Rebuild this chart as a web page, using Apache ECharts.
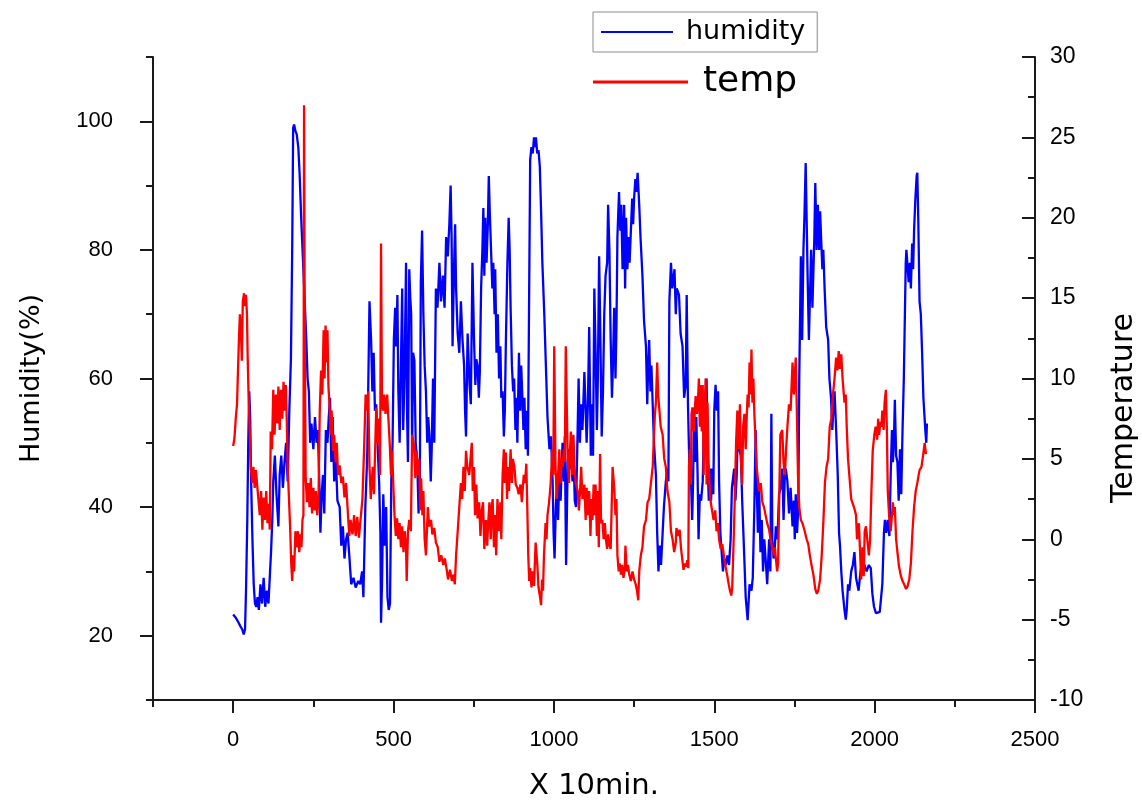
<!DOCTYPE html>
<html>
<head>
<meta charset="utf-8">
<script src="https://cdn.jsdelivr.net/npm/echarts@6/dist/echarts.min.js"></script>
<style>
html,body{margin:0;padding:0;background:#fff;}
#chart{width:1142px;height:806px;}
</style>
</head>
<body>
<div id="chart"></div>
<script>
// ---- data (x in units of 10 min) ----
const humidityX = [0,8,15,22,28,33,37,40,44,47,50,53,56,60,64,68,72,76,80,85,90,95,100,105,110,115,118,122,125,130,135,141,145,150,155,160,165,170,175,180,184,187,190,194,198,203,207,212,218,223,228,232,236,240,244,250,255,260,264,268,272,276,280,284,289,294,298,302,306,310,315,320,325,332,337,342,347,352,357,362,368,375,382,390,396,402,406,412,418,425,430,434,438,442,446,450,455,459,461,464,468,473,477,481,485,489,493,497,501,505,508,512,515,519,523,527,530,534,539,542,545,549,552,555,558,561,565,569,574,578,582,585,589,593,597,601,605,608,612,616,619,623,627,632,637,643,648,654,659,664,669,674,678,681,684,689,692,695,700,705,710,715,720,723,726,731,737,741,746,751,755,758,762,766,769,773,777,780,783,786,790,794,797,800,804,808,811,815,817,821,825,829,833,836,840,844,847,850,855,859,862,865,869,873,876,880,883,886,891,895,898,901,905,908,912,916,919,922,926,930,934,938,941,944,948,952,956,960,964,970,975,980,986,991,996,999,1002,1006,1010,1013,1017,1021,1024,1027,1031,1034,1038,1043,1047,1050,1054,1058,1061,1065,1069,1074,1077,1081,1085,1089,1095,1099,1102,1106,1110,1115,1119,1122,1126,1130,1134,1137,1141,1145,1149,1153,1157,1161,1166,1169,1173,1177,1181,1184,1188,1192,1195,1198,1203,1207,1210,1214,1219,1222,1225,1229,1233,1236,1240,1244,1247,1250,1254,1257,1261,1266,1270,1276,1281,1287,1291,1294,1297,1301,1304,1308,1312,1318,1322,1326,1330,1334,1339,1343,1349,1354,1357,1360,1365,1369,1376,1380,1383,1390,1395,1401,1406,1411,1414,1418,1422,1427,1431,1434,1437,1441,1444,1448,1451,1455,1459,1464,1469,1473,1476,1479,1483,1487,1490,1494,1497,1500,1504,1508,1512,1515,1519,1523,1527,1531,1536,1541,1546,1551,1555,1562,1566,1570,1574,1578,1583,1587,1593,1598,1604,1610,1616,1620,1625,1629,1632,1636,1640,1644,1648,1652,1656,1660,1665,1671,1675,1678,1681,1685,1689,1692,1697,1702,1707,1712,1716,1720,1723,1728,1733,1738,1744,1748,1751,1754,1758,1762,1765,1770,1774,1778,1781,1785,1791,1795,1798,1802,1806,1812,1815,1819,1823,1827,1830,1833,1837,1840,1844,1849,1855,1859,1864,1868,1871,1875,1880,1885,1889,1892,1896,1900,1906,1910,1913,1917,1921,1927,1932,1937,1942,1945,1950,1956,1961,1968,1975,1982,1988,1993,1998,2004,2010,2016,2020,2024,2029,2032,2036,2041,2046,2050,2054,2057,2060,2063,2067,2071,2075,2079,2083,2087,2091,2097,2099,2102,2106,2110,2113,2117,2120,2123,2127,2131,2133,2136,2140,2144,2148,2152,2155,2158,2161,2163];
const humidityVals = [23.3,22.8,22.2,21.5,21,20.2,21,27,38,50,58,54,44,35,28,25,24.5,26,24,28,25,29,24.5,27,25,30,33,38,44,48,42,37,45,48,43,47,50,44,55,63,80,99,99.5,98.5,98,96,92,85,78,72,66,60,58,50,53,49,54,50,52,45,36,42,45,39,52,50,54,57,47,54,44,48,41,40,34,37,32,35,36,32.5,28,29,27.5,28.5,28,30,26,40,48,72,66,58,64,55,56,50,44,36,22,28,42,34,40,26,24,25,44,50,66,71,65,73,58,50,62,74,52,60,78,55,47,77,72.7,70,49,64,62.8,50,47,39,44,75,83,70,62,58,50,54,51,44,49,60,50,74,71,78,72,76,71,82,79,84,90,82,65,78,84,74,67,64,72,66,62,55,51,67,59,56,78,66,59,63,62,57,61,74,80,86.5,76,85,78,84,91.5,86,80,74,78,70,77,64,70,60,65,57,58,51,55,65,78,85,80,71,62,58,60,52,57,50,64,55,62,58,52,57,49,55,48,68,94,96,95,97.5,96,97.5,95,95.5,93,86,78,70,62,54,49,51,44,36,32,40,44,38,45,41,46,50,44,51,31,47,49,46,48,44,49,41,40,52,60,50,56,52,61,55,50,56,68,48,56,48,74,64,52,60,79,66,51,58,70,76,78,87,80,66,57,62,71,60,68,82,89,83,87,77,87,74,85,77,82,78,83,88,84,88,91,89,92,87,82,76,69,65,56,62,66,58,62,56,50,45,36,30,34,31,36,40,44,46,44,72,78,74,77,70,74,73,67,65,57,59,73,56,47,45,38,44,55,47,54,45,35,42,41,44,56,54,60,47,41,46,41,46,42,55,59,55,58,44,36,33,30,32,31,32.5,31,35,43,46,41,45,53,49,48,41,33,26,22.4,28,27,29,40,52,44,36,43,33,38,30,35,32,28,35,30,54.5,35,32,34,37,35,42,43,46,38,45,46,44,39,43,37,41,35,42,36,40,60,79,66,80,85,93.5,76,66,72,80,71,82,90.4,80,87,80,86,82,77,80,74,68,66,60,57,52,55,58,52,45,36,34,30,27,24,22.5,24,28,27,30,31,33,29,29,27,30,31.5,31,30,31,30.5,26.5,24.5,23.5,23.5,23.7,23.5,28,36,38,36,38,35.5,45,52,47,50,56.7,48,47,41,49,42,52,60,78,80,78,75,78,74,81,77,83,88,91.5,92,85,72,70,64,57,57,52,50,53];

const tempX = [0,4,8,12,15,18,21,24,27,30,34,37,40,43,45,48,52,55,59,63,67,71,75,79,83,87,91,95,99,103,107,111,114,117,121,125,129,133,137,141,145,149,153,157,161,164,167,170,174,178,181,184,187,190,194,198,202,206,210,213,216,219,221,223,226,230,234,238,242,246,250,254,258,262,266,270,274,278,282,285,288,291,294,297,300,304,307,311,315,319,323,327,332,337,342,347,352,358,362,366,372,377,382,387,392,397,403,408,413,418,421,425,429,435,439,446,450,455,458,461,464,467,471,475,480,484,488,492,496,499,503,507,511,515,519,523,527,531,535,539,541,545,549,554,558,564,568,572,576,580,583,586,590,593,597,601,604,607,611,617,621,627,632,638,643,649,655,660,665,670,676,682,687,691,695,700,705,710,714,718,722,726,730,736,740,744,747,751,754,758,762,767,771,775,779,783,788,792,795,799,803,806,809,813,816,820,824,829,833,836,840,844,847,850,854,857,860,865,869,872,877,881,886,890,896,900,903,906,910,914,917,920,923,926,930,934,938,943,948,952,956,960,963,966,969,974,977,980,985,990,995,998,1001,1005,1009,1013,1017,1021,1024,1027,1031,1034,1037,1043,1047,1050,1053,1057,1061,1064,1068,1074,1078,1082,1085,1089,1095,1099,1102,1106,1110,1114,1117,1120,1124,1127,1130,1134,1137,1140,1144,1147,1151,1155,1159,1162,1166,1169,1172,1177,1183,1188,1192,1195,1198,1202,1205,1209,1213,1217,1221,1223,1227,1231,1235,1240,1245,1250,1255,1259,1263,1266,1271,1276,1281,1287,1292,1297,1302,1308,1312,1315,1318,1322,1325,1329,1333,1339,1344,1349,1354,1360,1365,1370,1375,1380,1382,1388,1392,1396,1400,1404,1408,1412,1416,1419,1421,1424,1427,1429,1432,1436,1439,1442,1446,1449,1452,1455,1458,1461,1464,1467,1470,1473,1476,1479,1482,1485,1489,1494,1498,1503,1507,1511,1515,1520,1525,1530,1535,1540,1545,1549,1553,1556,1559,1562,1565,1568,1572,1576,1580,1583,1587,1590,1594,1598,1601,1604,1607,1610,1613,1616,1619,1622,1625,1629,1632,1636,1640,1645,1650,1655,1660,1665,1671,1676,1682,1686,1689,1692,1696,1699,1702,1706,1712,1716,1720,1724,1728,1733,1738,1744,1748,1754,1757,1761,1765,1770,1775,1782,1788,1793,1798,1804,1809,1815,1820,1824,1830,1835,1840,1845,1850,1855,1860,1865,1870,1875,1880,1884,1888,1892,1896,1900,1906,1910,1913,1917,1921,1927,1932,1937,1942,1945,1951,1955,1958,1962,1966,1969,1973,1977,1982,1986,1990,1994,1999,2003,2008,2011,2014,2018,2021,2024,2028,2031,2035,2038,2041,2045,2050,2054,2057,2060,2063,2067,2071,2076,2082,2087,2092,2098,2103,2108,2113,2118,2123,2128,2133,2140,2146,2151,2156,2160,2163];
const tempVals = [5.8,6.3,7.5,8.4,10.5,12.5,14,13,11.1,14.8,15.3,14.5,15.2,14,11.5,8.9,6.5,4.5,3.5,4.5,3.2,4.3,3.3,3.2,1.5,3.0,0.6,2.6,1.2,3,1.0,2.2,0.6,6.7,5.6,9.3,6.5,9.0,7.2,9.5,6.8,9.3,7.5,9.8,8.0,9.6,7.5,4.5,2.5,0.5,-1.5,-2.6,-1,-2.0,0.5,-0.5,0.5,-0.8,0.3,-0.5,1.2,1.5,27,13.7,3.8,2.3,3.5,2.0,3.8,1.6,3.2,1.8,3.0,1.5,2.5,8,10.5,9,13,10,13.3,11,13,9.5,8.5,6.5,8,5.5,6.5,4.8,6,4,4.6,3.5,3.9,2.6,3.5,1.5,0.2,1.2,0.3,1.5,0.2,1.4,0.1,1.2,2.5,5.5,9,8,9.2,4.5,2.5,4.5,2.8,8.2,6,7.5,4,18.4,8.5,8,9,7.8,9,7.5,6,4,5.5,3.5,1.5,0.2,1.3,0,1,-0.5,0.8,-0.8,0.5,-0.5,-2.6,0.5,1.2,0.5,6.5,5.8,3.8,5.5,4,5,1.8,3.8,1.5,3,0,-1,0.5,2,0.8,1.2,0.3,0.7,-0.2,-0.5,-1.4,-1,-1.6,-1.2,-1.8,-2.5,-1.9,-2.6,-2.2,-2.8,-1,0.5,2,3.5,2.5,4.5,3,5.5,4.5,4,5,6,3,4.5,1.5,3.4,1.3,2.3,0.2,1.8,2.3,-0.6,1.2,-0.4,1,2.3,0,2,2.5,-0.5,1.5,-1,2.5,0.5,2.3,0,4,5.6,3.5,5.4,2.5,4.5,3,5.6,3.5,5,4.5,3.4,3.2,2.8,3.4,2.3,3.2,4,3.5,4.7,2,-1,-2.6,-1.8,-3,-2,-2.9,-0.2,-1.5,-3,-3.5,-4.1,-2.5,-3.2,-1,1,0,1.5,2.3,3.5,5.6,4,12,4.5,2.5,4,5.6,3.5,5,4.5,5.6,4.8,12,5,3.5,5.5,6.7,4,6.5,4.5,3.5,3,1.8,3.2,4.5,2.5,3.4,1.2,3.2,1.5,3,0.2,2.5,1.2,3.4,1.5,3.4,0.2,3,-0.5,5.3,1,1.2,0,1,0,-0.6,0.3,-0.3,-0.6,4.5,3.2,1.5,2.5,-1,-2,-1.5,-2.2,-1.6,-2.4,-1.8,-0.4,-2,-1.6,-2.2,-2.6,-2,-2.5,-2.8,-3.2,-3.8,-2,-1,-0.5,0.8,1.2,2.3,2.5,3.4,4.5,6.5,7.8,8.5,11,9,9,7,6.5,5,4.5,3,2.3,0.5,0,-0.8,-0.2,0.7,0.2,0.6,-0.5,-1.2,-1.9,-1.5,-1.7,-1.3,-1.8,4.5,5.6,3.4,7.8,8.2,6.7,8,8.9,7.8,8.5,10,7,9.6,6.7,9.6,4,8,10,3.4,8.5,5,3.4,2.3,2.3,1.2,1.8,0.5,1,0,-0.6,-0.3,-1,-1.7,-2.2,-2.8,-3.2,-3.5,-3.0,-1,1,3.4,6,8,5.6,8.4,5,3.4,7,7.8,5.6,7.5,9,8.2,11,9,11.8,8.5,10,7.8,6,4.5,4.5,3,3.5,2.3,2,1.5,1.0,0.6,-0.1,0,-1,-0.5,-1.2,-2.0,-1.5,2,6.5,6.8,4.8,4,5.6,7,8.4,8,11,9,11.3,8.5,4,2,1.2,1,0.5,0,-0.3,-1,-1.7,-2.2,-3.1,-3.4,-3.2,-2.5,-1,1,3.5,4.5,5,7,7.5,9,10,11.3,10.5,11.7,10.6,11.5,10,8.5,9,7,5,4,2.5,2.2,1.9,1.5,0,1,-1,-2.5,-0.5,-2.3,0.5,0.8,0,-1,0,3,5.5,6.5,7,6.2,7.5,6.5,7.3,7,8,6.8,8.5,9.3,7,3,1.5,0.5,1.5,2.3,1.5,2,0,-0.8,-1.7,-2.3,-2.6,-2.8,-3.1,-2.9,-2.5,-1.5,0.5,2,3,3.5,4.3,4.5,5.2,6,5.3];

// axis ticks / labels
const xLabelValues = [0, 500, 1000, 1500, 2000, 2500];
const humLabelValues = [20, 40, 60, 80, 100];

const humidityData = humidityX.map((x, i) => [x, humidityVals[i]]);
const tempData = tempX.map((x, i) => [x, tempVals[i]]);

const chart = echarts.init(document.getElementById('chart'));
const axisColor = '#1a1a1a';
const labelFont = '"Liberation Sans", Arial, sans-serif';
const titleFont = '"DejaVu Sans", sans-serif';

chart.setOption({
  animation: false,
  backgroundColor: '#ffffff',
  grid: { left: 153, right: 107, top: 57, bottom: 100, containLabel: false },
  legend: [
    {
      data: ['humidity'],
      left: 593, top: 12,
      orient: 'vertical',
      icon: 'rect', itemWidth: 72, itemHeight: 2,
      borderColor: '#8c8c8c', borderWidth: 1,
      padding: [6, 12, 6, 8],
      textStyle: { fontSize: 27, lineHeight: 28, color: '#000', fontFamily: titleFont, padding: [0, 0, 0, 8] }
    },
    {
      data: ['temp'],
      left: 593, top: 64,
      icon: 'rect', itemWidth: 95, itemHeight: 3,
      padding: 0,
      textStyle: { fontSize: 36, lineHeight: 36, color: '#000', fontFamily: titleFont, padding: [0, 0, 0, 10] }
    }
  ],
  graphic: [
    {
      type: 'text', x: 1124, y: 408, rotation: Math.PI / 2,
      style: { text: 'Temperature', fill: '#000', font: '30px "DejaVu Sans", sans-serif', textAlign: 'center', textVerticalAlign: 'middle' }
    }
  ],
  xAxis: [
    {
      type: 'value', min: -250, max: 2500,
      position: 'bottom',
      name: 'X 10min.', nameLocation: 'middle', nameGap: 72,
      nameTextStyle: { fontSize: 29, color: '#000', fontFamily: titleFont },
      axisLine: { show: true, onZero: false, lineStyle: { color: axisColor, width: 2 } },
      axisTick: { show: true, length: 13, lineStyle: { color: axisColor, width: 2 }, customValues: xLabelValues },
      axisLabel: { show: true, fontSize: 22, color: '#000', margin: 29, fontFamily: labelFont, customValues: xLabelValues, formatter: (v) => String(v) },
      splitLine: { show: false }
    },
    {
      type: 'value', min: -250, max: 2500, interval: 250,
      position: 'bottom',
      axisLine: { show: false, onZero: false },
      axisTick: { show: true, length: 7, lineStyle: { color: axisColor, width: 2 } },
      axisLabel: { show: false },
      splitLine: { show: false }
    }
  ],
  yAxis: [
    {
      type: 'value', min: 10, max: 110,
      position: 'left',
      name: 'Humidity(%)', nameLocation: 'middle', nameGap: 108, nameRotate: 90,
      nameTextStyle: { fontSize: 27, color: '#000', fontFamily: titleFont },
      axisLine: { show: true, onZero: false, lineStyle: { color: axisColor, width: 2 } },
      axisTick: { show: true, length: 13, lineStyle: { color: axisColor, width: 2 }, customValues: humLabelValues },
      axisLabel: { show: true, fontSize: 22, color: '#000', margin: 40, fontFamily: labelFont, customValues: humLabelValues, formatter: (v) => String(v) },
      splitLine: { show: false }
    },
    {
      type: 'value', min: -10, max: 30, interval: 5,
      position: 'right',
      axisLine: { show: true, onZero: false, lineStyle: { color: axisColor, width: 2 } },
      axisTick: { show: true, inside: true, length: 13, lineStyle: { color: axisColor, width: 2 } },
      minorTick: { show: true, splitNumber: 2, length: 7, lineStyle: { color: axisColor, width: 2 } },
      axisLabel: { show: true, fontSize: 23, color: '#000', margin: 15, fontFamily: labelFont },
      splitLine: { show: false }, minorSplitLine: { show: false }
    },
    {
      type: 'value', min: 10, max: 110, interval: 10,
      position: 'left',
      axisLine: { show: false, onZero: false },
      axisTick: { show: true, length: 7, lineStyle: { color: axisColor, width: 2 } },
      axisLabel: { show: false },
      splitLine: { show: false }
    }
  ],
  series: [
    {
      name: 'humidity', type: 'line', xAxisIndex: 0, yAxisIndex: 0,
      data: humidityData, showSymbol: false, symbol: 'none',
      color: '#0000ff',
      lineStyle: { color: '#0000ff', width: 2.3 }
    },
    {
      name: 'temp', type: 'line', xAxisIndex: 0, yAxisIndex: 1,
      data: tempData, showSymbol: false, symbol: 'none',
      color: '#ff0000',
      lineStyle: { color: '#ff0000', width: 2.3 }
    }
  ]
});
</script>
</body>
</html>
